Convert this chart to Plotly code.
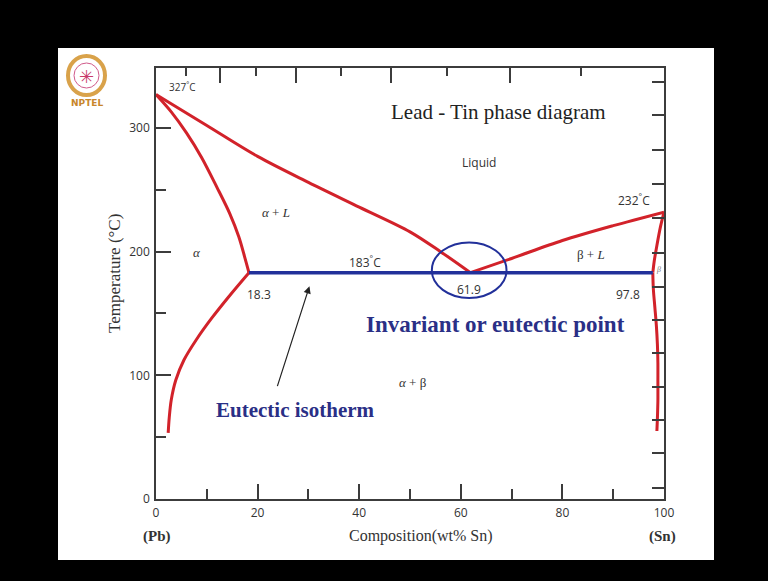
import plotly.graph_objects as go

# ---------------- data (wt% Sn, temperature in C) ----------------
liq_left_x = [0, 10, 20, 30, 40, 50, 56, 61.9]
liq_left_y = [327, 302, 277, 256, 236, 216, 200, 183]

sol_alpha_x = [0, 3, 6, 9, 12, 14.5, 16.3, 17.5, 18.3]
sol_alpha_y = [327, 313, 296, 276, 252, 231, 212, 195, 183]

solvus_alpha_x = [18.3, 14.6, 11.0, 7.9, 5.5, 3.9, 3.0, 2.6, 2.4]
solvus_alpha_y = [183, 165, 146.4, 128.6, 112.4, 96.2, 80.0, 65.5, 53.4]

liq_right_x = [61.9, 70, 80, 90, 100]
liq_right_y = [183, 194.5, 209, 221, 232]

sol_beta_x = [100, 99.3, 98.6, 98.1, 97.8]
sol_beta_y = [232, 220, 205, 193, 183]

solvus_beta_x = [97.8, 97.9, 98.2, 98.5, 98.7, 98.8, 98.8, 98.8, 98.7, 98.6]
solvus_beta_y = [183, 170, 155, 140, 125, 110, 95, 80, 65, 55]

eutectic_x = [18.3, 97.8]
eutectic_y = [183, 183]

# axis ticks
x_major = [0, 20, 40, 60, 80, 100]
x_minor = [10, 30, 50, 70, 90]
y_major = [0, 100, 200, 300]
y_minor = [50, 150, 250]
top_at_major = [20, 40, 60, 80]          # atomic % Sn (top axis, unlabeled)
top_at_minor = [10, 30, 50, 70, 90]
right_ticks_C = [9.3, 36.8, 63.6, 90.3, 117.8, 144.5, 171.3, 198.8, 227.1, 254.7, 282.2, 310.5, 337.2]

M_SN, M_PB = 118.71, 207.2


def at_to_wt(a):
    return 100 * a * M_SN / (a * M_SN + (100 - a) * M_PB)


RED = "#d2222a"
BLUE = "#22309a"
TXT = "#333333"
AX = "#3c3c3c"

fig = go.Figure()


def red(x, y):
    fig.add_trace(go.Scatter(x=x, y=y, mode="lines", line=dict(color=RED, width=3, shape="spline", smoothing=0.9),
                             hoverinfo="skip", showlegend=False))


red(liq_left_x, liq_left_y)
red(sol_alpha_x, sol_alpha_y)
red(solvus_alpha_x, solvus_alpha_y)
red(liq_right_x, liq_right_y)
red(sol_beta_x, sol_beta_y)
red(solvus_beta_x, solvus_beta_y)

fig.add_trace(go.Scatter(x=eutectic_x, y=eutectic_y, mode="lines", line=dict(color=BLUE, width=3.5),
                         hoverinfo="skip", showlegend=False))

# invisible trace for secondary axes
fig.add_trace(go.Scatter(x=[0], y=[0], xaxis="x2", yaxis="y2", mode="markers", marker=dict(opacity=0),
                         hoverinfo="skip", showlegend=False))

# ---------------- layout ----------------
L, R, T, B = 156, 104, 68, 82
W, H = 768, 581
PW, PH = W - L - R, H - T - B


def px(xpix):
    return (xpix - L) / PW


def py(ypix):
    return (H - B - ypix) / PH


shapes = [
    # white slide
    dict(type="rect", xref="paper", yref="paper", x0=px(58), x1=px(714), y0=py(560), y1=py(48),
         fillcolor="white", line=dict(width=0), layer="below"),
    # eutectic point ellipse
    dict(type="circle", xref="x", yref="y", x0=54.3, x1=69.0, y0=162.5, y1=207.5,
         line=dict(color=BLUE, width=2)),
    # NPTEL logo
    dict(type="circle", xref="paper", yref="paper", x0=px(68), x1=px(105), y0=py(95), y1=py(56),
         line=dict(color="#d9a24a", width=4)),
    dict(type="circle", xref="paper", yref="paper", x0=px(74), x1=px(99), y0=py(88), y1=py(63),
         line=dict(color="#d05a8a", width=1)),
]

ann = []


def txt(x, y, s, size=12, color=TXT, family="Open Sans", ref="data", angle=0, **kw):
    d = dict(x=x, y=y, text=s, showarrow=False, font=dict(size=size, color=color, family=family), textangle=angle,
             xanchor="center", yanchor="middle")
    if ref == "paper":
        d.update(xref="paper", yref="paper")
    d.update(kw)
    ann.append(d)


SERIF = "Liberation Serif"
txt(5.1, 333, "327<sup>°</sup>C", size=10)
txt(67.4, 313, "Lead - Tin phase diagram", size=21, family=SERIF, color="#222")
txt(63.6, 272, "Liquid", size=12)
txt(94.0, 242, "232<sup>°</sup>C", size=12)
txt(23.7, 231.5, "<i>α</i> + <i>L</i>", size=13, family=SERIF)
txt(8.1, 199, "<i>α</i>", size=13, family=SERIF)
txt(41.1, 192, "183<sup>°</sup>C", size=12)
txt(85.6, 198, "β + <i>L</i>", size=13, family=SERIF)
txt(98.9, 185.5, "<i>β</i>", size=8, family=SERIF, color="#777")
txt(20.2, 165, "18.3", size=12)
txt(61.7, 169, "61.9", size=12)
txt(92.9, 165, "97.8", size=12)
txt(66.8, 141.5, "<b>Invariant or eutectic point</b>", size=23, family=SERIF, color="#2a2f86")
txt(50.6, 94, "<i>α</i> + β", size=13, family=SERIF)
txt(27.5, 72, "<b>Eutectic isotherm</b>", size=21, family=SERIF, color="#2a2f86")

txt(px(114), py(274), "Temperature (°C)", size=17, family=SERIF, ref="paper", angle=-90)
txt(px(421), py(536), "Composition(wt% Sn)", size=16, family=SERIF, ref="paper")
txt(px(157), py(536), "<b>(Pb)</b>", size=15, family=SERIF, ref="paper")
txt(px(662), py(536), "<b>(Sn)</b>", size=15, family=SERIF, ref="paper")
txt(px(87), py(103), "<b>NPTEL</b>", size=9, family="DejaVu Sans", color="#c8862a", ref="paper")
txt(px(86), py(76), "✳", size=18, family="DejaVu Sans", color="#c83a6a", ref="paper")

# arrow to eutectic isotherm
ann.append(dict(x=30.2, y=172, ax=23.8, ay=90, xref="x", yref="y", axref="x", ayref="y", text="",
                showarrow=True, arrowhead=2, arrowsize=1.2, arrowwidth=1.2, arrowcolor="#222"))

tickfont = dict(size=12, color=TXT, family="Open Sans")
fig.update_layout(
    width=W, height=H,
    margin=dict(l=L, r=R, t=T, b=B, pad=0),
    paper_bgcolor="black",
    plot_bgcolor="rgba(0,0,0,0)",
    shapes=shapes,
    annotations=ann,
    xaxis=dict(range=[0, 100], tickvals=x_major, ticktext=[str(v) for v in x_major], ticks="inside",
               ticklen=15, tickwidth=1.5, tickcolor=AX, showline=True, linecolor=AX, linewidth=1.5,
               showgrid=False, zeroline=False, tickfont=tickfont, ticklabelstandoff=2,
               minor=dict(tickvals=x_minor, ticks="inside", ticklen=10, tickwidth=1.5, tickcolor=AX,
                          showgrid=False)),
    yaxis=dict(range=[0, 348.5], tickvals=y_major, ticktext=[str(v) for v in y_major], ticks="inside",
               ticklen=15, tickwidth=1.5, tickcolor=AX, showline=True, linecolor=AX, linewidth=1.5,
               showgrid=False, zeroline=False, tickfont=tickfont, ticklabelstandoff=2,
               minor=dict(tickvals=y_minor, ticks="inside", ticklen=10, tickwidth=1.5, tickcolor=AX,
                          showgrid=False)),
    xaxis2=dict(range=[0, 100], overlaying="x", side="top", anchor="y",
                tickvals=[at_to_wt(a) for a in top_at_major], ticks="inside", ticklen=15, tickwidth=1.5,
                tickcolor=AX, showticklabels=False, showline=True, linecolor=AX, linewidth=1.5,
                showgrid=False, zeroline=False,
                minor=dict(tickvals=[at_to_wt(a) for a in top_at_minor], ticks="inside", ticklen=8,
                           tickwidth=1.5, tickcolor=AX, showgrid=False)),
    yaxis2=dict(range=[0, 348.5], overlaying="y", side="right", anchor="x",
                tickvals=right_ticks_C, ticks="inside", ticklen=12, tickwidth=1.5, tickcolor=AX,
                showticklabels=False, showline=True, linecolor=AX, linewidth=1.5, showgrid=False,
                zeroline=False),
)

fig.write_html("out.html")
